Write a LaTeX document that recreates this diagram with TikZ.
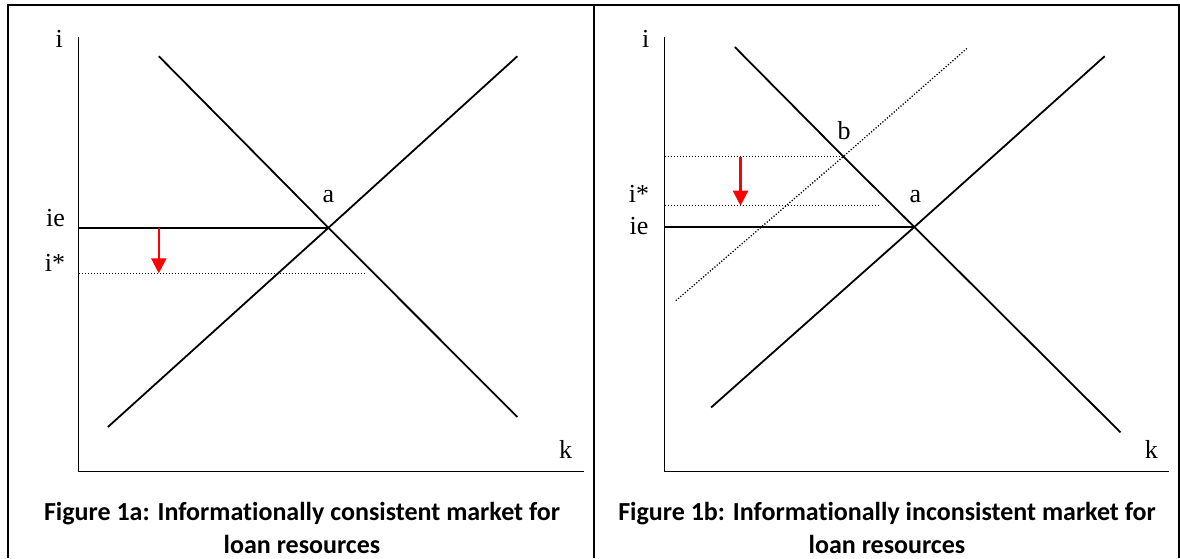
\documentclass[tikz,border=0pt]{standalone}
\usepackage{fontspec}
\setmainfont{Liberation Serif}
\newfontfamily\capfont[Ligatures=NoCommon]{Carlito}
\usetikzlibrary{arrows.meta}

\tikzset{
  frame/.style={line width=1.6pt},
  curve/.style={line width=1.8pt},
  dotline/.style={line width=1.3pt,dash pattern=on 1.2pt off 1.8pt},
  shiftarrow/.style={red,line width=2.2pt,-{Triangle[width=15pt,length=15pt]}},
  axislabel/.style={font=\fontsize{26}{26}\selectfont,inner sep=0pt},
  figcaption/.style={font=\capfont\bfseries\fontsize{26}{32.5}\selectfont,align=center,inner sep=0pt}
}

\begin{document}
\begin{tikzpicture}[x=1pt,y=-1pt]
\useasboundingbox (0,0) rectangle (1180,558);
\draw[frame] (8,558) -- (8,5) -- (1179,5) -- (1179,558);
\draw[frame] (594,5) -- (594,558);

\coordinate (aEq) at (328.4,227.8);
\draw[curve] (78.5,37) -- (78.5,471.5) -- (583.6,471.5);
\draw[curve] (158.8,56.2) -- (aEq) -- (517.4,417);
\draw[curve] (107.9,427) -- (aEq) -- (517.4,56.2);
\draw[curve] (78.5,227.8) -- (aEq);
\draw[dotline] (78.5,273.3) -- (365.5,273.3);
\coordinate (aTop) at (158.8,227.8);
\coordinate (aLow) at (158.8,273.3);
\draw[shiftarrow] (aTop) -- (aLow);
\node[axislabel] (ai) at (59.3,39) {i};
\node[axislabel] (aie) at (55.5,218) {ie};
\node[axislabel] (astar) at (55,263) {i*};
\node[axislabel] (alabel) at (328.4,197) {a};
\node[axislabel] (ak) at (565.6,449) {k};
\node[figcaption] (acap) at (302,528) {Figure 1a: Informationally consistent market for\\loan resources};

\coordinate (bEq) at (914.3,227);
\coordinate (bCross) at (843.3,156.5);
\draw[curve] (664.5,37) -- (664.5,471.5) -- (1168.6,471.5);
\draw[curve] (734.8,47) -- (bCross) -- (bEq) -- (1120.5,432.4);
\draw[curve] (711.1,407.5) -- (bEq) -- (1104.7,56.2);
\draw[dotline] (675.8,300.7) -- (bCross) -- (967.4,48);
\draw[curve] (664.5,227) -- (bEq);
\draw[dotline] (664.5,156.5) -- (bCross);
\draw[dotline] (664.5,205.7) -- (879,205.7);
\coordinate (bTop) at (740.5,157.3);
\coordinate (bLow) at (740.5,205.7);
\draw[shiftarrow] (bTop) -- (bLow);
\node[axislabel] (bi) at (645.7,39) {i};
\node[axislabel] (bstar) at (639,194) {i*};
\node[axislabel] (bie) at (639,226) {ie};
\node[axislabel] (blabel) at (844,131) {b};
\node[axislabel] (alabelb) at (915.4,196.4) {a};
\node[axislabel] (bk) at (1151.3,449) {k};
\node[figcaption] (bcap) at (887,528) {Figure 1b: Informationally inconsistent market for\\loan resources};
\end{tikzpicture}
\end{document}
